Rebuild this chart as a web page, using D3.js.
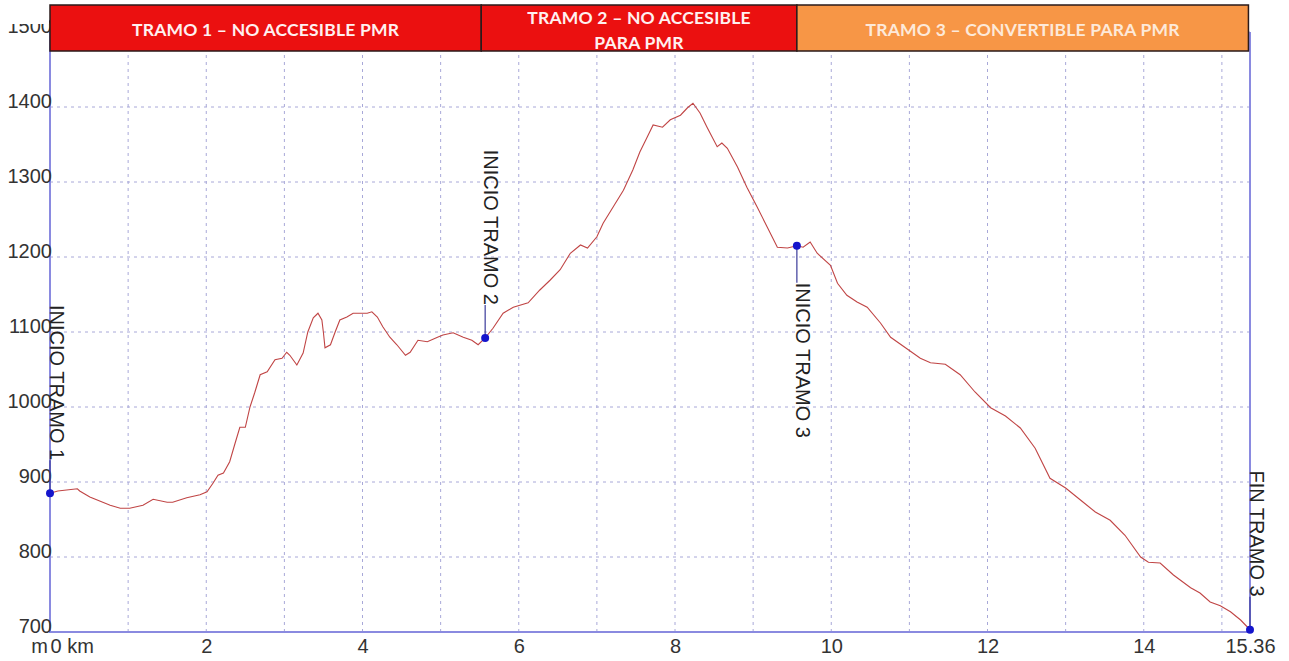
<!DOCTYPE html>
<html>
<head>
<meta charset="utf-8">
<script src="https://cdn.jsdelivr.net/npm/d3@7"></script>
<style>
  body { margin: 0; background: #fff; }
  svg { display: block; }
</style>
</head>
<body>
<svg width="1289" height="661"></svg>
<script>
// elevation profile, distance in km and elevation in m
var distanceKm = [0, 0.10, 0.35, 0.38, 0.51, 0.77, 0.90, 1.02, 1.19, 1.32, 1.50, 1.57, 1.75, 1.92, 2.01,
  2.09, 2.15, 2.22, 2.30, 2.37, 2.43, 2.50, 2.56, 2.62, 2.69, 2.78, 2.88, 2.97, 3.03, 3.07, 3.16,
  3.24, 3.30, 3.37, 3.43, 3.48, 3.50, 3.52, 3.59, 3.65, 3.71, 3.80, 3.88, 4.06, 4.12, 4.19, 4.26,
  4.35, 4.44, 4.55, 4.61, 4.71, 4.83, 4.96, 5.03, 5.16, 5.29, 5.40, 5.48, 5.57, 5.67, 5.80, 5.93,
  6.12, 6.27, 6.40, 6.53, 6.66, 6.79, 6.88, 7.00, 7.08, 7.21, 7.34, 7.46, 7.55, 7.64, 7.72, 7.84,
  7.94, 8.07, 8.16, 8.23, 8.32, 8.41, 8.54, 8.60, 8.67, 8.80, 8.92, 9.05, 9.18, 9.31, 9.44, 9.56,
  9.64, 9.73, 9.82, 9.99, 10.08, 10.20, 10.33, 10.46, 10.63, 10.76, 10.95, 11.14, 11.27, 11.46,
  11.65, 11.84, 12.04, 12.23, 12.42, 12.61, 12.80, 13.00, 13.19, 13.38, 13.57, 13.76, 13.96, 14.06,
  14.21, 14.38, 14.60, 14.72, 14.85, 14.98, 15.11, 15.24, 15.36];
var elevationM = [885, 888, 891, 888, 880, 869, 865, 865, 869, 877, 873, 873, 879, 883, 887,
  899, 909, 912, 927, 952, 973, 973, 1000, 1019, 1043, 1047, 1063, 1065, 1073, 1069, 1056,
  1072, 1100, 1119, 1125, 1116, 1099, 1079, 1083, 1100, 1116, 1120, 1125, 1125, 1127, 1120, 1107,
  1093, 1083, 1069, 1073, 1089, 1087, 1093, 1096, 1099, 1093, 1089, 1083, 1092, 1105, 1125, 1133,
  1139, 1156, 1169, 1183, 1205, 1216, 1212, 1227, 1245, 1267, 1289, 1316, 1340, 1359, 1376, 1373,
  1383, 1389, 1399, 1405, 1392, 1373, 1347, 1352, 1345, 1320, 1293, 1267, 1240, 1213, 1212, 1215,
  1213, 1220, 1205, 1189, 1165, 1149, 1140, 1133, 1112, 1093, 1079, 1065, 1059, 1057,
  1043, 1020, 999, 988, 972, 945, 905, 892, 876, 860, 849, 829, 800, 793,
  792, 776, 759, 752, 740, 735, 727, 716, 703];

var yTicks = [700, 800, 900, 1000, 1100, 1200, 1300, 1400, 1500];
var xTicks = [0, 2, 4, 6, 8, 10, 12, 14, 15.36];
var xGrid = [1, 2, 3, 4, 5, 6, 7, 8, 9, 10, 11, 12, 13, 14, 15];

var markerKm = [0, 5.57, 9.56, 15.36];
var markerElev = [885, 1092, 1215, 703];
var markerLabels = ['INICIO TRAMO 1', 'INICIO TRAMO 2', 'INICIO TRAMO 3', 'FIN TRAMO 3'];

var bannerBreaksKm = [0, 5.52, 9.56, 15.34];
var bannerLines = [['TRAMO 1 \u2013 NO ACCESIBLE PMR'], ['TRAMO 2 \u2013 NO ACCESIBLE', 'PARA PMR'], ['TRAMO 3 \u2013 CONVERTIBLE PARA PMR']];
var bannerColors = ['#eb1010', '#eb1010', '#f79646'];

var svg = d3.select('svg');
var x = d3.scaleLinear().domain([0, 15.36]).range([50, 1250]);
var y = d3.scaleLinear().domain([700, 1500]).range([632, 32]);

// grid
svg.append('g').selectAll('line')
  .data(yTicks.slice(1))
  .enter().append('line')
  .attr('x1', x(0)).attr('x2', x(15.36))
  .attr('y1', d => y(d)).attr('y2', d => y(d))
  .attr('stroke', '#a8a8d8').attr('stroke-width', 1)
  .attr('stroke-dasharray', '3,4');

svg.append('g').selectAll('line')
  .data(xGrid)
  .enter().append('line')
  .attr('x1', d => x(d)).attr('x2', d => x(d))
  .attr('y1', y(700)).attr('y2', y(1500))
  .attr('stroke', '#a8a8d8').attr('stroke-width', 1)
  .attr('stroke-dasharray', '3,4');

// frame
svg.append('path')
  .attr('d', 'M' + x(0) + ',' + y(1500) + 'V' + y(700) + 'H' + x(15.36) + 'V' + y(1500))
  .attr('fill', 'none').attr('stroke', '#8a8ae0').attr('stroke-width', 2);

// axes
var yAxis = svg.append('g')
  .attr('transform', 'translate(' + 52 + ',0)')
  .call(d3.axisLeft(y).tickValues(yTicks).tickSize(0).tickPadding(0).tickFormat(d3.format('d')));
yAxis.select('.domain').remove();
yAxis.selectAll('text')
  .attr('dy', 0)
  .attr('font-family', 'Liberation Sans, Arial, sans-serif')
  .attr('font-size', 20).attr('fill', '#333');

var xAxis = svg.append('g')
  .attr('transform', 'translate(0,' + 653 + ')')
  .call(d3.axisBottom(x).tickValues(xTicks).tickSize(0).tickPadding(0)
    .tickFormat(d => d === 0 ? '0 km' : (d === 15.36 ? '15.36' : d)));
xAxis.select('.domain').remove();
xAxis.selectAll('text')
  .attr('y', 0).attr('dy', 0)
  .attr('font-family', 'Liberation Sans, Arial, sans-serif')
  .attr('font-size', 20).attr('fill', '#333')
  .attr('text-anchor', d => d === 0 ? 'start' : 'middle');

svg.append('text')
  .attr('x', 48).attr('y', 653)
  .attr('text-anchor', 'end')
  .attr('font-family', 'Liberation Sans, Arial, sans-serif')
  .attr('font-size', 20).attr('fill', '#333')
  .text('m');

// profile
var line = d3.line()
  .x((d, i) => x(distanceKm[i]))
  .y(d => y(d));

svg.append('path')
  .datum(elevationM)
  .attr('d', line)
  .attr('fill', 'none')
  .attr('stroke', '#c04545')
  .attr('stroke-width', 1.1);

// markers with leaders and rotated labels
markerKm.forEach(function(km, i) {
  var cx = x(km), cy = y(markerElev[i]);
  var below = i === 2;
  var ty = below ? cy + 37 : cy - 33;
  svg.append('line')
    .attr('x1', cx).attr('x2', cx)
    .attr('y1', cy).attr('y2', ty)
    .attr('stroke', '#3a3a9a').attr('stroke-width', 1.2);
  svg.append('text')
    .attr('transform', 'translate(' + (cx - (i === 0 || i === 3 ? 0 : 1)) + ',' + ty + ') rotate(90)')
    .attr('text-anchor', below ? 'start' : 'end')
    .attr('font-family', 'Liberation Sans, Arial, sans-serif')
    .attr('font-size', 20).attr('fill', '#222')
    .text(markerLabels[i]);
  svg.append('circle')
    .attr('cx', cx).attr('cy', cy).attr('r', 4)
    .attr('fill', '#1515cc');
});

// banner across the top
var banner = svg.append('g');
bannerLines.forEach(function(lines, i) {
  var x0 = x(bannerBreaksKm[i]), x1 = x(bannerBreaksKm[i + 1]);
  banner.append('rect')
    .attr('x', x0).attr('y', 5)
    .attr('width', x1 - x0).attr('height', 46)
    .attr('fill', bannerColors[i])
    .attr('stroke', '#2a1a1a').attr('stroke-width', 1.5);
  var t = banner.append('text')
    .attr('x', (x0 + x1) / 2)
    .attr('text-anchor', 'middle')
    .attr('font-family', 'Lato, Open Sans, sans-serif')
    .attr('font-weight', 'bold')
    .attr('font-size', 17.5)
    .attr('letter-spacing', 0.2)
    .attr('fill', i === 2 ? '#fde9d9' : '#fff0f0');
  if (lines.length === 1) {
    t.attr('y', 36).text(lines[0]);
  } else {
    t.append('tspan').attr('x', (x0 + x1) / 2).attr('y', 24).text(lines[0]);
    t.append('tspan').attr('x', (x0 + x1) / 2).attr('y', 49).text(lines[1]);
  }
});

// top of the 1500 label is cut off in the original
svg.append('rect').attr('x', 0).attr('y', 0).attr('width', 49).attr('height', 24).attr('fill', '#fff');
</script>
</body>
</html>
